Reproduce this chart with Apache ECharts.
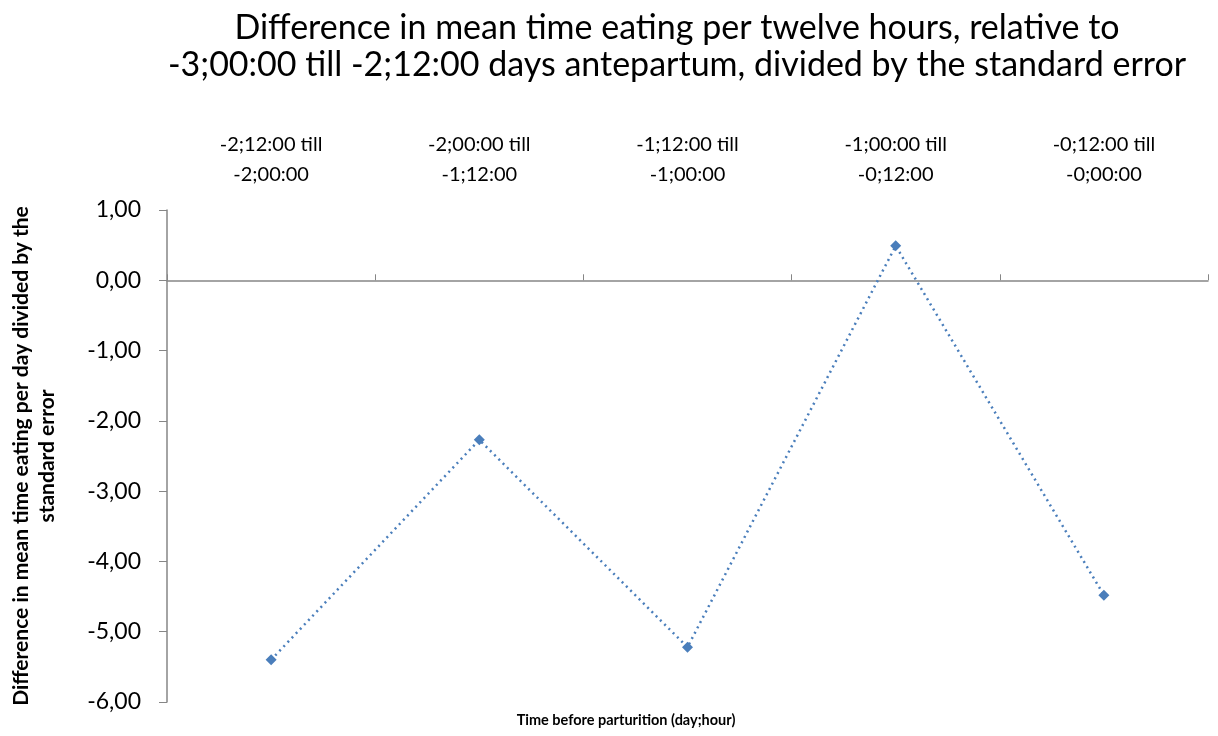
<!DOCTYPE html>
<html>
<head>
<meta charset="utf-8">
<script src="https://cdn.jsdelivr.net/npm/echarts@6/dist/echarts.min.js"></script>
<style>html,body{margin:0;padding:0;background:#fff}#c{width:1218px;height:736px}</style>
</head>
<body>
<div id="c"></div>
<script>
const categories = ['-2;12:00 till\n-2;00:00', '-2;00:00 till\n-1;12:00', '-1;12:00 till\n-1;00:00', '-1;00:00 till\n-0;12:00', '-0;12:00 till\n-0;00:00'];
const values = [-5.40, -2.27, -5.22, 0.49, -4.48];
const yMin = -6, yMax = 1, yInterval = 1;
const titleText = 'Difference in mean time eating per twelve hours, relative to\n-3;00:00 till -2;12:00 days antepartum, divided by the standard error';
const xName = 'Time before parturition (day;hour)';
const yName = 'Difference in mean time eating per day divided by the\nstandard error';

const FONT = 'Lato';
const chart = echarts.init(document.getElementById('c'));
chart.setOption({
  backgroundColor: '#fff',
  graphic: [
    { type: 'text', x: 677, y: 10, style: { text: titleText, align: 'center', verticalAlign: 'top',
        font: 'normal 34px Lato', lineHeight: 37, fill: '#000' } },
    { type: 'text', x: 626, y: 720, style: { text: xName, align: 'center', verticalAlign: 'middle',
        font: 'bold 14.5px Lato', fill: '#000' } }
  ],
  grid: { left: 163, right: 10, top: 210, bottom: 34 },
  xAxis: [
    {
      type: 'category', data: categories, position: 'bottom',
      axisLine: { onZero: true, lineStyle: { color: '#868686', width: 1.5 } },
      axisTick: { show: true, inside: true, length: 6, lineStyle: { color: '#868686' } },
      axisLabel: { show: false }, splitLine: { show: false }
    },
    {
      type: 'category', data: categories, position: 'top',
      axisLine: { show: false }, axisTick: { show: false }, splitLine: { show: false },
      axisLabel: { fontFamily: FONT, fontSize: 20, color: '#000', lineHeight: 30, margin: 20 }
    }
  ],
  yAxis: {
    type: 'value', min: yMin, max: yMax, interval: yInterval,
    name: yName, nameLocation: 'middle', nameGap: 107,
    nameTextStyle: { fontFamily: FONT, fontSize: 21, fontWeight: 'bold', color: '#000', lineHeight: 26 },
    axisLine: { show: true, lineStyle: { color: '#868686', width: 1.5 } },
    axisTick: { show: true, length: 8, lineStyle: { color: '#868686' } },
    splitLine: { show: false },
    axisLabel: { fontFamily: FONT, fontSize: 23, color: '#000', margin: 26,
      formatter: v => v.toFixed(2).replace('.', ',') }
  },
  series: [{
    type: 'line', data: values, xAxisIndex: 0,
    symbol: 'diamond', symbolSize: 11,
    itemStyle: { color: '#4A7EBB' },
    lineStyle: { color: '#4A7EBB', width: 2.5, type: [2, 4] },
    animation: false
  }]
});
</script>
</body>
</html>
